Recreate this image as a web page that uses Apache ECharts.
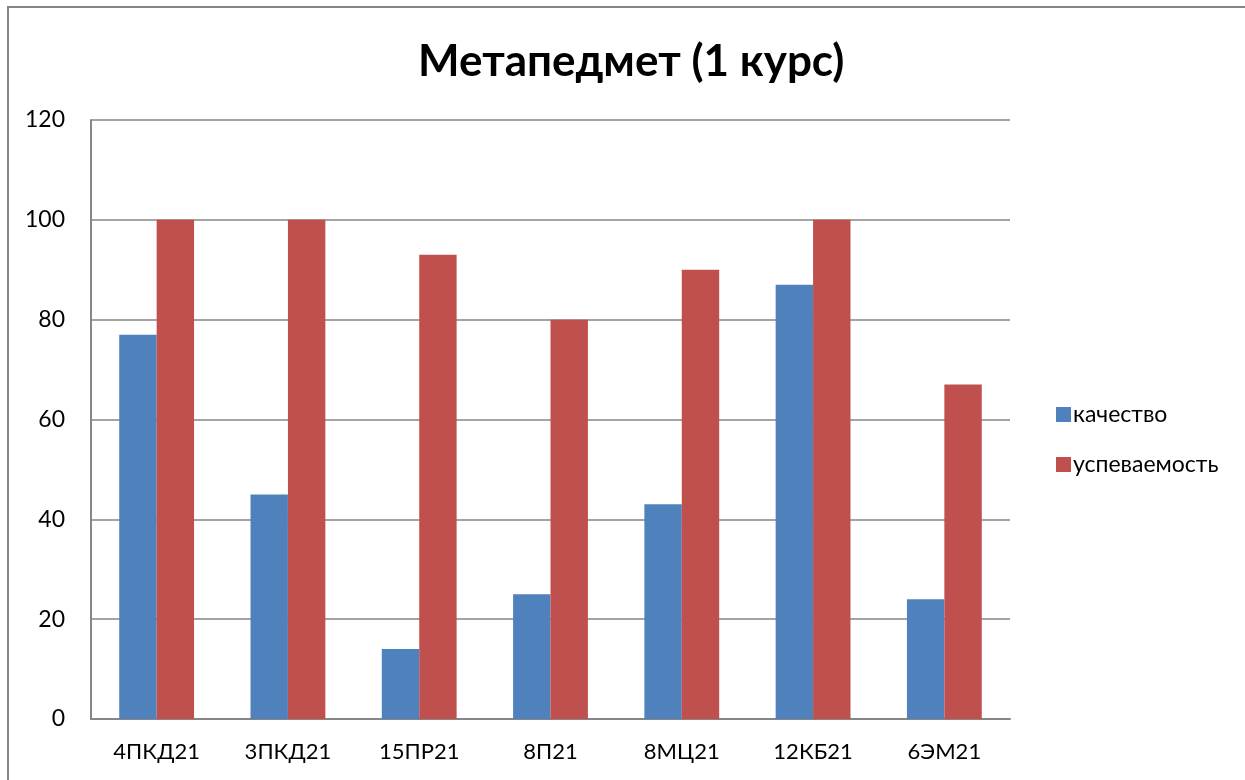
<!DOCTYPE html>
<html>
<head>
<meta charset="utf-8">
<script src="https://cdn.jsdelivr.net/npm/echarts@6/dist/echarts.min.js"></script>
<style>
  html, body { margin: 0; padding: 0; background: #fff; }
  #main { width: 1245px; height: 780px; }
</style>
</head>
<body>
<div id="main"></div>
<script>
// данные
var groups = ['4ПКД21', '3ПКД21', '15ПР21', '8П21', '8МЦ21', '12КБ21', '6ЭМ21'];
var kachestvo = [77, 45, 14, 25, 43, 87, 24];
var uspevaemost = [100, 100, 93, 80, 90, 100, 67];
var yTicks = [0, 20, 40, 60, 80, 100, 120];

var font = 'Lato, "Noto Sans", sans-serif';
var myChart = echarts.init(document.getElementById('main'));
var option = {
    backgroundColor: '#fff',
    animation: false,
    title: {
        text: 'Метапедмет (1 курс)',
        left: 413,
        top: 35,
        textStyle: { fontSize: 44, fontWeight: 'bold', color: '#000', fontFamily: font }
    },
    legend: {
        orient: 'vertical',
        left: 1051,
        top: 398,
        itemWidth: 15,
        itemHeight: 15,
        itemGap: 27,
        icon: 'rect',
        textStyle: { fontSize: 23, color: '#000', fontFamily: font, padding: [0, 0, 0, -3] },
        data: ['качество', 'успеваемость']
    },
    grid: {
        left: 91,
        right: 235,
        top: 120,
        bottom: 61
    },
    xAxis: {
        type: 'category',
        data: groups,
        axisLine: { lineStyle: { color: '#868686', width: 2 } },
        axisTick: { show: false },
        axisLabel: { fontSize: 22, color: '#000', fontFamily: font, margin: 22 }
    },
    yAxis: {
        type: 'value',
        min: yTicks[0],
        max: yTicks[yTicks.length - 1],
        interval: 20,
        axisLine: { show: true, lineStyle: { color: '#868686', width: 2 } },
        axisTick: { show: false },
        splitLine: { lineStyle: { color: '#868686', width: 1.5 } },
        axisLabel: { fontSize: 23, color: '#000', fontFamily: font, margin: 26 }
    },
    series: [
        {
            name: 'качество',
            type: 'bar',
            data: kachestvo,
            itemStyle: { color: '#4F81BD' },
            barGap: '0%',
            barCategoryGap: '43%'
        },
        {
            name: 'успеваемость',
            type: 'bar',
            data: uspevaemost,
            itemStyle: { color: '#C0504D' }
        }
    ],
    graphic: [
        {
            type: 'rect',
            shape: { x: 8, y: 7, width: 1400, height: 900 },
            style: { fill: 'none', stroke: '#868686', lineWidth: 2 },
            silent: true
        }
    ]
};
option && myChart.setOption(option);
</script>
</body>
</html>
